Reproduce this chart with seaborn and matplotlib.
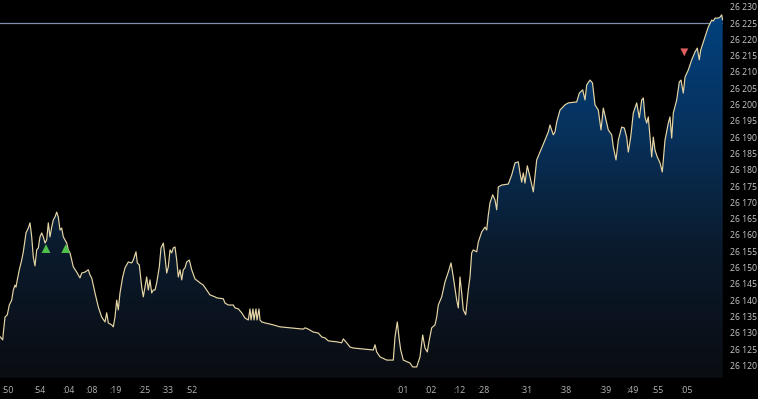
import numpy as np
import pandas as pd
import matplotlib
matplotlib.use("Agg")
import matplotlib.pyplot as plt
import seaborn as sns
from matplotlib.colors import LinearSegmentedColormap

# ---------------- data ----------------
t = [0, 2.7, 3.3, 5, 7.3, 9.3, 11.7, 13.3, 15, 16, 17.3, 19.3, 21.7, 23.3, 25, 26, 28.3, 30,
     31.7, 33.3, 35, 36.7, 38.3, 40, 41.7, 43.3, 45, 46.7, 48.3, 50, 51.7, 53.3, 55, 56.7, 58.3,
     60, 61.7, 63.3, 66.7, 68.3, 70, 71.7, 73.3, 76.7, 80, 81.7, 85, 88.3, 90, 91.7, 95, 98.3,
     101.7, 105, 106.7, 108.3, 111.7, 113.3, 115, 116.7, 118.3, 120, 122.7, 125, 128.3, 131.7,
     133.3, 136, 137.3, 139.3, 141.7, 143.3, 145, 146.7, 148.3, 150, 151.7, 153.3, 155, 156.7,
     159.3, 161, 163.3, 165, 166.7, 168.3, 170, 171.7, 173.3, 175, 176.7, 178.3, 180, 181.7,
     183.3, 185, 186.7, 189.3, 191.7, 195, 200, 203.3, 206.7, 210, 215, 216.7, 223.3, 225,
     228.3, 233.3, 235, 238.3, 241.7, 245, 248.3, 250, 251, 253, 254, 256, 257, 259, 260,
     261.7, 265, 273.3, 276.7, 280, 290, 303.3, 305, 308.3, 313.3, 318.3, 321.7, 325, 328.3,
     336.7, 341.7, 343.3, 346.7, 350, 353.3, 363.3, 373.3, 375, 376.7, 380, 386.7, 393.3, 395,
     397.3, 399.3, 400.7, 403.3, 410, 412.7, 416.7, 420, 422.7, 425, 427.3, 429.3, 431.7, 435,
     436.7, 438.3, 441.7, 445, 448.3, 451, 453.3, 456.7, 458.3, 460, 461.7, 463.3, 465.7, 468.3,
     470, 471.7, 473.3, 476.7, 478.3, 481.7, 485, 486.7, 488.3, 490, 492.7, 495, 496.7, 498.3,
     501.7, 508.3, 511.7, 515, 518.3, 520, 521.7, 523.3, 525, 527.3, 530, 533.3, 536.7, 540,
     545, 548.3, 550, 553.3, 555, 556.7, 560, 565, 568.3, 576.7, 579.3, 582.7, 585, 586.7, 590,
     592.5, 595, 598.3, 601, 603.3, 606, 608.3, 611.7, 613.3, 616, 618.3, 621.7, 624.3, 626.7,
     628.3, 630.7, 633.3, 636.7, 639.3, 641.7, 643.3, 645, 646.7, 648.3, 650, 651.7, 653.3, 655,
     657.3, 660, 662.3, 665, 668.3, 670, 671.7, 673.3, 676.7, 679.3, 681, 683.3, 685, 688.3,
     691.7, 695, 697.3, 699.3, 700.7, 705, 708.3, 711.7, 713.3, 715, 718.3, 720, 721.7, 722.7]

price = [26128.8, 26127.8, 26129.9, 26134.8, 26135.5, 26138.5, 26140.0, 26143.1, 26144.6,
         26144.0, 26146.2, 26149.3, 26152.3, 26154.8, 26158.5, 26160.6, 26162.1, 26163.7,
         26159.4, 26153.2, 26150.5, 26155.4, 26156.0, 26159.4, 26160.6, 26159.4, 26157.5,
         26158.5, 26163.7, 26159.4, 26162.4, 26164.6, 26165.5, 26167.0, 26165.5, 26161.5,
         26162.1, 26159.4, 26157.5, 26155.4, 26154.5, 26152.3, 26150.2, 26148.6, 26146.8,
         26148.3, 26148.6, 26149.3, 26147.7, 26146.8, 26142.2, 26137.9, 26134.8, 26133.3,
         26136.1, 26133.0, 26132.4, 26131.8, 26134.8, 26140.0, 26137.0, 26142.2, 26147.1,
         26149.9, 26151.7, 26151.4, 26152.3, 26154.8, 26151.4, 26150.8, 26144.0, 26141.0,
         26144.0, 26147.1, 26143.1, 26146.2, 26142.2, 26143.1, 26143.1, 26145.3, 26150.2,
         26156.0, 26157.5, 26153.2, 26148.3, 26150.2, 26155.4, 26154.5, 26156.0, 26156.3,
         26152.3, 26147.1, 26149.3, 26146.2, 26149.3, 26149.9, 26151.7, 26152.3, 26149.3,
         26146.5, 26145.3, 26144.6, 26143.1, 26141.6, 26141.0, 26140.7, 26140.4, 26139.1,
         26138.5, 26138.5, 26137.6, 26137.3, 26136.1, 26134.5, 26133.9, 26137.3, 26133.9,
         26137.3, 26133.9, 26137.3, 26133.9, 26137.3, 26133.9, 26133.3, 26133.0, 26132.4,
         26132.1, 26131.8, 26131.5, 26131.1, 26131.5, 26131.1, 26130.2, 26129.9, 26128.7,
         26128.4, 26127.5, 26127.2, 26126.9, 26128.1, 26126.9, 26125.6, 26125.3, 26125.0,
         26124.7, 26126.3, 26124.1, 26122.6, 26121.6, 26121.6, 26128.7, 26133.3, 26127.8,
         26124.7, 26121.6, 26120.7, 26119.5, 26119.5, 26122.6, 26129.3, 26125.3, 26124.1,
         26127.8, 26131.5, 26132.4, 26134.8, 26138.5, 26141.0, 26145.6, 26148.6, 26151.4,
         26147.1, 26140.0, 26137.6, 26147.1, 26142.2, 26137.0, 26135.5, 26143.1, 26147.1,
         26154.5, 26155.4, 26154.8, 26157.8, 26160.9, 26162.4, 26161.5, 26166.1, 26169.8,
         26172.3, 26170.7, 26167.7, 26174.7, 26175.3, 26175.6, 26178.4, 26182.1, 26182.4,
         26179.0, 26176.2, 26179.0, 26175.9, 26181.2, 26177.8, 26173.2, 26183.0, 26185.4,
         26189.1, 26191.6, 26193.7, 26190.7, 26191.6, 26194.6, 26198.3, 26199.9, 26200.5,
         26200.8, 26203.5, 26204.5, 26201.4, 26206.0, 26207.5, 26206.6, 26199.9, 26198.3,
         26192.2, 26198.9, 26195.3, 26192.2, 26190.7, 26187.0, 26183.0, 26189.1, 26193.1,
         26192.8, 26190.0, 26185.4, 26190.0, 26197.4, 26200.5, 26195.9, 26201.4, 26202.0,
         26196.2, 26194.3, 26196.2, 26190.0, 26183.9, 26190.0, 26186.0, 26183.9, 26182.1,
         26179.3, 26189.1, 26194.3, 26196.2, 26189.7, 26197.4, 26201.4, 26206.9, 26207.5,
         26203.5, 26208.4, 26210.6, 26213.7, 26216.1, 26217.3, 26213.7, 26216.7, 26220.7,
         26223.8, 26225.9, 26225.6, 26226.5, 26226.5, 26226.8, 26227.5, 26225.9]

buy_t = [46.0, 65.7]
buy_p = [26155.8, 26155.8]
sell_t = [684.3]
sell_p = [26216.0]

ref_level = 26225

xtick_pos = [7.3, 39.3, 68.3, 91.7, 116, 144, 167.3, 191, 402.3, 431, 459.3, 484,
             526.7, 565, 605.7, 632.3, 657.3, 686.7]
xtick_labels = [":50", ":54", ":04", ":08", ":19", ":25", ":33", ":52", ":01", ":02",
                ":12", ":28", ":31", ":38", ":39", ":49", ":55", ":05"]
ytick_vals = list(range(26120, 26231, 5))

# ---------------- plot ----------------
sns.set_theme(style="dark")
plt.rcParams['font.family'] = ['Open Sans', 'DejaVu Sans']

fig = plt.figure(figsize=(7.58, 3.99), dpi=100, facecolor="black")
ax = fig.add_axes([0.0, 0.0534, 723 / 758, 1 - 0.0534])
ax.set_facecolor("black")

xmin, xmax = 0, 723
ymin, ymax = 26116.2, 26232.06
ax.set_xlim(xmin, xmax)
ax.set_ylim(ymin, ymax)

df = pd.DataFrame({"t": t, "price": price})

# reference horizontal line (below the fill)
ax.axhline(ref_level, color="#7f8db0", lw=0.9, zorder=1)

# gradient fill under the line
poly = ax.fill_between(df["t"], df["price"], ymin, color="none", lw=0, zorder=2)
cmap = LinearSegmentedColormap.from_list("g", ["#0a0d12", "#0b1a2c", "#07325e", "#004382"])
grad = np.linspace(0, 1, 256).reshape(-1, 1)
im = ax.imshow(grad, cmap=cmap, aspect="auto", origin="lower",
               extent=[xmin, xmax, ymin, ymax], zorder=2)
path = poly.get_paths()[0]
im.set_clip_path(path, transform=ax.transData)

sns.lineplot(data=df, x="t", y="price", ax=ax, color="#e6d6a6", lw=0.85, zorder=4,
             estimator=None, sort=False)

sns.scatterplot(x=buy_t, y=buy_p, ax=ax, marker="^", s=40, color="#4fc04a",
                edgecolor="none", zorder=5)
sns.scatterplot(x=sell_t, y=sell_p, ax=ax, marker="v", s=32, color="#e06060",
                edgecolor="none", zorder=5)

ax.set_xlabel("")
ax.set_ylabel("")
ax.grid(False)
for s in ax.spines.values():
    s.set_visible(False)

ax.set_xticks(xtick_pos)
ax.set_xticklabels(xtick_labels)
ax.set_yticks(ytick_vals)
ax.set_yticklabels([f"{v:,}".replace(",", " ") for v in ytick_vals])
ax.yaxis.tick_right()
ax.tick_params(axis="y", length=0, pad=5, labelsize=6.2, labelcolor="#c8c8c8")
ax.tick_params(axis="x", length=0, pad=6, labelsize=6.3, labelcolor="#b4b4b4")

fig.savefig("out.png", dpi=100, facecolor="black")
